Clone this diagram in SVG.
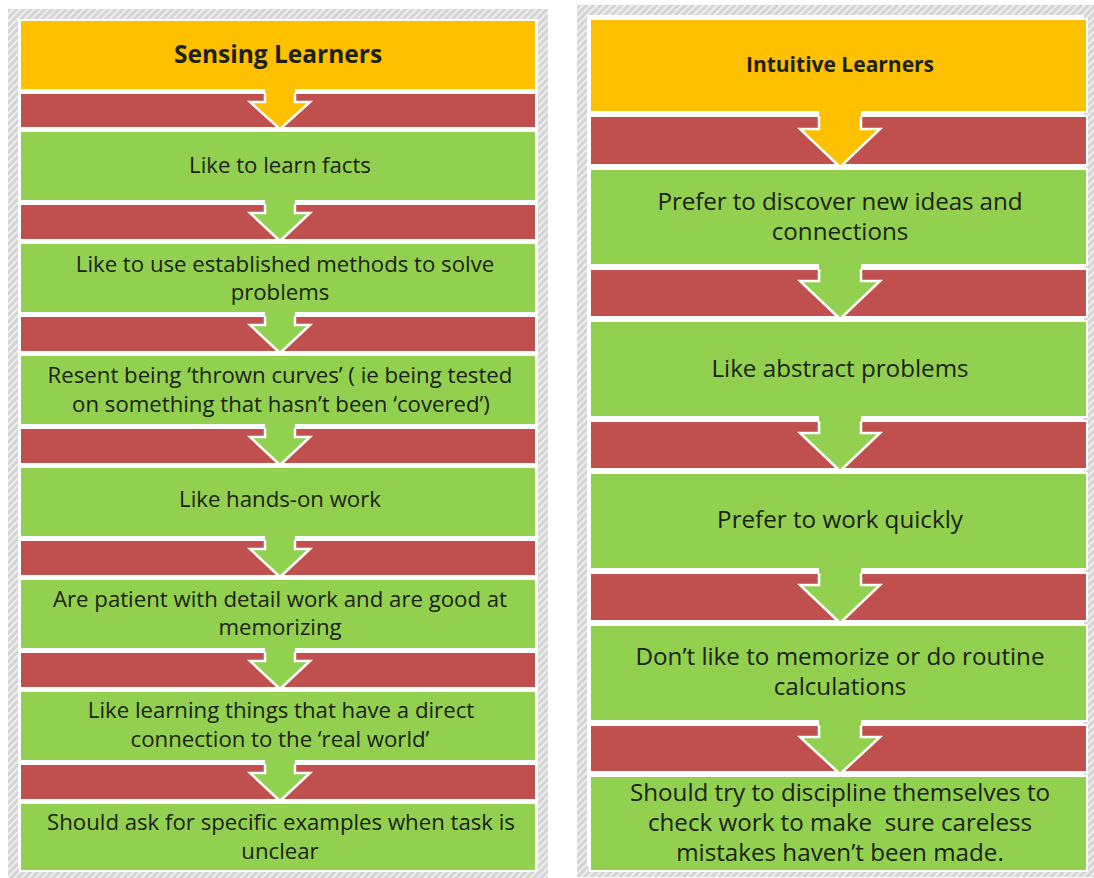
<svg xmlns="http://www.w3.org/2000/svg" width="1094" height="878" viewBox="0 0 1094 878">
<defs>
<pattern id="hatch" patternUnits="userSpaceOnUse" width="5" height="5" patternTransform="rotate(45)">
<rect width="5" height="5" fill="#d4d4d4"/>
<rect width="1.6" height="5" fill="#f4f4f4"/>
</pattern>
</defs>
<style>
.frame{fill:none;stroke:url(#hatch);stroke-width:10}
.hdr{fill:#FFC000;stroke:#fff;stroke-width:2}
.box{fill:#92D050;stroke:#fff;stroke-width:2}
.band{fill:#C0504D;stroke:#fff;stroke-width:2}
.arrO{fill:#FFC000}
.arrG{fill:#92D050}
.edge{fill:none;stroke:#fff;stroke-width:2.5;stroke-linejoin:miter}
text{font-family:"Open Sans",Lato,"Liberation Sans",sans-serif;fill:#1c2214;text-anchor:middle}
.l{font-size:22.2px}
.r{font-size:24.2px}
.hl{font-size:24.5px;font-weight:bold}
.hr{font-size:21px;font-weight:bold}
</style>
<rect width="1094" height="878" fill="#fff"/>
<rect class="frame" x="13" y="14" width="530" height="859"/>
<rect class="frame" x="582" y="10" width="507" height="862"/>

<g id="connectors">
<rect class="band" x="20" y="93" width="516" height="35"/>
<rect class="band" x="20" y="204" width="516" height="36"/>
<rect class="band" x="20" y="316" width="516" height="36"/>
<rect class="band" x="20" y="428" width="516" height="36"/>
<rect class="band" x="20" y="540" width="516" height="36"/>
<rect class="band" x="20" y="652" width="516" height="36"/>
<rect class="band" x="20" y="764" width="516" height="36"/>
<rect class="band" x="590" y="116" width="497" height="49"/>
<rect class="band" x="590" y="269" width="497" height="48"/>
<rect class="band" x="590" y="421" width="497" height="48"/>
<rect class="band" x="590" y="573" width="497" height="48"/>
<rect class="band" x="590" y="725" width="497" height="47"/>
</g>

<g id="n-sensing">
<rect class="hdr" x="20" y="20" width="516" height="70"/>
<text class="hl" x="278" y="63">Sensing Learners</text>
</g>
<g id="n-s1"><rect class="box" x="20" y="131" width="516" height="70"/><text class="l" x="280" y="173">Like to learn facts</text></g>
<g id="n-s2"><rect class="box" x="20" y="243" width="516" height="70"/><text class="l"><tspan x="285" y="272">Like to use established methods to solve</tspan><tspan x="280" y="300">problems</tspan></text></g>
<g id="n-s3"><rect class="box" x="20" y="355" width="516" height="70"/><text class="l"><tspan x="280" y="383">Resent being ‘thrown curves’ ( ie being tested</tspan><tspan x="281" y="412">on something that hasn’t been ‘covered’)</tspan></text></g>
<g id="n-s4"><rect class="box" x="20" y="467" width="516" height="70"/><text class="l" x="280" y="507">Like hands-on work</text></g>
<g id="n-s5"><rect class="box" x="20" y="579" width="516" height="70"/><text class="l"><tspan x="280" y="607">Are patient with detail work and are good at</tspan><tspan x="280" y="635">memorizing</tspan></text></g>
<g id="n-s6"><rect class="box" x="20" y="691" width="516" height="70"/><text class="l"><tspan x="281" y="718">Like learning things that have a direct</tspan><tspan x="280" y="747">connection to the ‘real world’</tspan></text></g>
<g id="n-s7"><rect class="box" x="20" y="803" width="516" height="68"/><text class="l"><tspan x="281" y="830">Should ask for specific examples when task is</tspan><tspan x="280" y="859">unclear</tspan></text></g>

<g id="n-intuitive">
<rect class="hdr" x="590" y="19" width="497" height="93"/>
<text class="hr" x="840" y="72">Intuitive Learners</text>
</g>
<g id="n-i1"><rect class="box" x="590" y="169" width="497" height="96"/><text class="r" x="840" y="210" textLength="365" lengthAdjust="spacing">Prefer to discover new ideas and</text><text class="r" x="840" y="240">connections</text></g>
<g id="n-i2"><rect class="box" x="590" y="321" width="497" height="96"/><text class="r" x="840" y="377">Like abstract problems</text></g>
<g id="n-i3"><rect class="box" x="590" y="473" width="497" height="96"/><text class="r" x="840" y="528">Prefer to work quickly</text></g>
<g id="n-i4"><rect class="box" x="590" y="625" width="497" height="96"/><text class="r"><tspan x="840" y="665">Don’t like to memorize or do routine</tspan><tspan x="840" y="695">calculations</tspan></text></g>
<g id="n-i5"><rect class="box" x="590" y="776" width="497" height="95"/><text class="r" xml:space="preserve"><tspan x="840" y="801">Should try to discipline themselves to</tspan><tspan x="840" y="831">check work to make  sure careless</tspan><tspan x="840" y="861">mistakes haven’t been made.</tspan></text></g>

<g id="arrows">
<path class="arrO" d="M265,88 V102 H250 L280,129 L310,102 H295 V88 Z"/>
<path class="edge" d="M265,93 V102 H250 L280,129 L310,102 H295 V93"/>
<path class="arrG" d="M265,199 V213 H250 L280,241 L310,213 H295 V199 Z"/>
<path class="edge" d="M265,204 V213 H250 L280,241 L310,213 H295 V204"/>
<path class="arrG" d="M265,311 V325 H250 L280,353 L310,325 H295 V311 Z"/>
<path class="edge" d="M265,316 V325 H250 L280,353 L310,325 H295 V316"/>
<path class="arrG" d="M265,423 V437 H250 L280,465 L310,437 H295 V423 Z"/>
<path class="edge" d="M265,428 V437 H250 L280,465 L310,437 H295 V428"/>
<path class="arrG" d="M265,535 V549 H250 L280,577 L310,549 H295 V535 Z"/>
<path class="edge" d="M265,540 V549 H250 L280,577 L310,549 H295 V540"/>
<path class="arrG" d="M265,647 V661 H250 L280,689 L310,661 H295 V647 Z"/>
<path class="edge" d="M265,652 V661 H250 L280,689 L310,661 H295 V652"/>
<path class="arrG" d="M265,759 V773 H250 L280,801 L310,773 H295 V759 Z"/>
<path class="edge" d="M265,764 V773 H250 L280,801 L310,773 H295 V764"/>
<path class="arrO" d="M819,110 V129 H800 L840,167 L880,129 H861 V110 Z"/>
<path class="edge" d="M819,116 V129 H800 L840,167 L880,129 H861 V116"/>
<path class="arrG" d="M819,263 V281 H800 L840,319 L880,281 H861 V263 Z"/>
<path class="edge" d="M819,269 V281 H800 L840,319 L880,281 H861 V269"/>
<path class="arrG" d="M819,415 V433 H800 L840,471 L880,433 H861 V415 Z"/>
<path class="edge" d="M819,421 V433 H800 L840,471 L880,433 H861 V421"/>
<path class="arrG" d="M819,567 V585 H800 L840,623 L880,585 H861 V567 Z"/>
<path class="edge" d="M819,573 V585 H800 L840,623 L880,585 H861 V573"/>
<path class="arrG" d="M819,719 V737 H800 L840,774 L880,737 H861 V719 Z"/>
<path class="edge" d="M819,725 V737 H800 L840,774 L880,737 H861 V725"/>
</g>
</svg>
